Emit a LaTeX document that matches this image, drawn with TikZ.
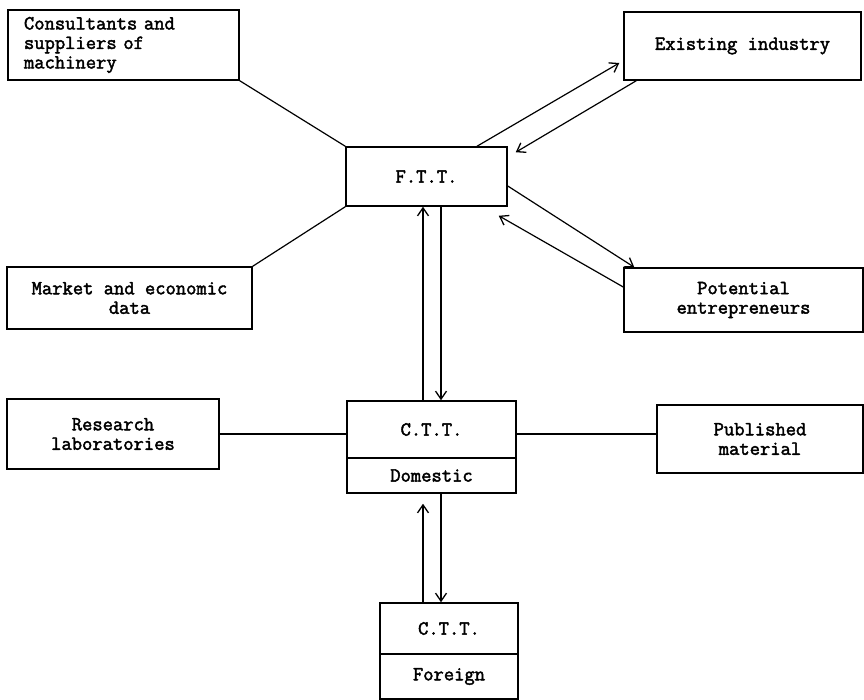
\documentclass[tikz,border=0pt]{standalone}
\usepackage{fontspec}
\newfontfamily\tw{Latin Modern Mono}[FakeBold=2.2]
\usetikzlibrary{arrows.meta}
\tikzset{
  box/.style={draw, line width=1.5pt, rectangle, inner sep=0pt, align=center,
    font=\tw\fontsize{20}{19.5}\selectfont},
  link/.style={line width=1.2pt},
  arr/.style={line width=1.2pt, -{Straight Barb[length=8pt,width=11pt,line width=1.3pt]}}
}
\begin{document}
\begin{tikzpicture}[x=1pt,y=-1pt]
\useasboundingbox (0,0) rectangle (864,700);
\node[box, minimum width=231pt, minimum height=70pt, text width=199pt, align=left] (cons) at (123.5,45) {Consultants and\\suppliers of\\machinery};
\node[box, minimum width=237pt, minimum height=68pt] (exist) at (742.5,46) {Existing industry};
\node[box, minimum width=161pt, minimum height=59pt] (ftt) at (426.5,176.5) {F.T.T.};
\node[box, minimum width=245pt, minimum height=62pt] (market) at (129.5,298) {Market and economic\\data};
\node[box, minimum width=239pt, minimum height=64pt] (pot) at (743.5,300) {Potential\\entrepreneurs};
\node[box, minimum width=212pt, minimum height=70pt] (res) at (113,434) {Research\\laboratories};
\node[box, minimum width=169pt, minimum height=57pt] (dom) at (431.5,429.5) {C.T.T.};
\node[box, minimum width=169pt, minimum height=35pt] (domlab) at (431.5,475.5) {Domestic};
\node[box, minimum width=206pt, minimum height=68pt] (pub) at (760,439) {Published\\material};
\node[box, minimum width=138pt, minimum height=51pt] (for) at (449,628.5) {C.T.T.};
\node[box, minimum width=138pt, minimum height=45pt] (forlab) at (449,676.5) {Foreign};

\draw[link] (cons.south east) -- (ftt.north west);
\draw[link] (market.north east) -- (ftt.south west);
\draw[arr] ([xshift=50.5pt]ftt.north) -- ([xshift=-4pt,yshift=-17pt]exist.west);
\draw[arr] ([xshift=13pt]exist.south west) -- ([xshift=8pt,yshift=-6pt]ftt.north east);
\draw[arr] ([yshift=-9.5pt]ftt.east) -- ([xshift=11pt]pot.north west);
\draw[arr] ([yshift=13pt]pot.west) -- ([xshift=-9pt,yshift=-9pt]ftt.south east);
\draw[arr] ([xshift=-8.5pt]dom.north) -- ([xshift=-8.5pt]dom.north |- ftt.south);
\draw[arr] ([xshift=9.5pt]dom.north |- ftt.south) -- ([xshift=9.5pt]dom.north);
\draw[arr] ([xshift=-8.5pt]domlab.south |- for.north) -- ([xshift=-8.5pt,yshift=-10pt]domlab.south);
\draw[line width=2.6pt] ([xshift=-8.5pt]domlab.south |- for.north) -- ++(0pt,46pt);
\draw[arr] ([xshift=9.5pt]domlab.south) -- ([xshift=9.5pt]domlab.south |- for.north);
\draw[link] (res.east) -- (res.east -| dom.west);
\draw[link] (res.east -| dom.east) -- (res.east -| pub.west);
\end{tikzpicture}
\end{document}
